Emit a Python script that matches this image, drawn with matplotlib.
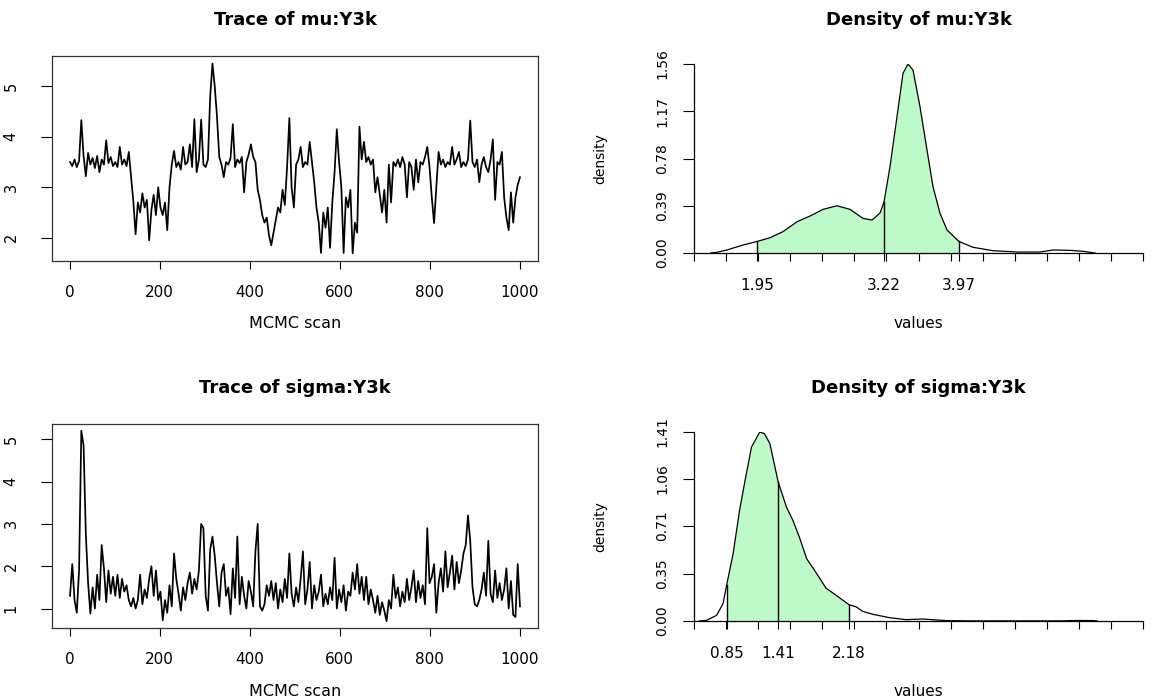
import numpy as np
import matplotlib.pyplot as plt

W, H = 1152, 698

# --- MCMC traces (one value about every 5 scans) ---
mu_trace = [
    3.50, 3.42, 3.55, 3.40, 3.52, 4.33, 3.62, 3.22, 3.68, 3.45,
    3.58, 3.38, 3.62, 3.30, 3.55, 3.45, 3.93, 3.48, 3.60, 3.42,
    3.50, 3.40, 3.80, 3.45, 3.55, 3.42, 3.70, 3.20, 2.72, 2.07,
    2.70, 2.50, 2.88, 2.60, 2.75, 1.95, 2.55, 2.85, 2.45, 3.00,
    2.60, 2.45, 2.70, 2.15, 3.00, 3.45, 3.72, 3.40, 3.50, 3.35,
    3.80, 3.45, 3.50, 3.85, 3.40, 4.35, 3.30, 3.55, 4.34, 3.45,
    3.40, 3.55, 4.80, 5.45, 5.00, 4.40, 3.60, 3.45, 3.20, 3.50,
    3.45, 3.58, 4.25, 3.40, 3.55, 3.48, 3.60, 2.90, 3.50, 3.65,
    3.85, 3.60, 3.50, 2.95, 2.75, 2.45, 2.30, 2.40, 2.05, 1.85,
    2.10, 2.35, 2.60, 2.50, 2.95, 2.65, 3.40, 4.37, 3.00, 2.60,
    3.45, 3.55, 3.80, 3.40, 3.50, 3.45, 3.90, 3.50, 3.10, 2.60,
    2.30, 1.70, 2.50, 2.20, 2.60, 1.80, 2.70, 3.30, 4.15, 3.50,
    3.00, 1.70, 2.80, 2.60, 2.95, 1.69, 2.30, 2.10, 4.20, 3.55,
    3.90, 3.50, 3.60, 3.45, 3.55, 2.90, 3.20, 2.85, 2.50, 2.95,
    2.30, 3.45, 2.70, 3.50, 3.42, 3.55, 3.40, 3.60, 3.45, 2.80,
    3.50, 3.40, 2.95, 3.55, 3.10, 3.50, 3.45, 3.60, 3.80, 3.40,
    2.80, 2.29, 3.00, 3.70, 3.45, 3.55, 3.40, 3.50, 3.45, 3.80,
    3.45, 3.55, 3.70, 3.40, 3.50, 3.42, 3.55, 4.32, 3.50, 3.40,
    3.55, 3.10, 3.45, 3.60, 3.40, 3.30, 3.55, 3.95, 2.75, 3.50,
    3.45, 3.70, 2.80, 2.40, 2.15, 2.90, 2.30, 2.80, 3.05, 3.20,
]

sigma_trace = [
    1.30, 2.05, 1.20, 0.90, 1.90, 5.20, 4.85, 2.75, 1.60, 0.88,
    1.50, 1.00, 1.80, 1.20, 2.50, 1.95, 1.15, 1.90, 1.35, 1.75,
    1.30, 1.80, 1.25, 1.70, 1.40, 1.55, 1.20, 1.05, 1.25, 1.00,
    1.20, 1.80, 1.10, 1.45, 1.25, 1.70, 2.00, 1.30, 1.90, 1.20,
    1.40, 0.72, 1.20, 0.90, 1.55, 1.05, 2.30, 1.70, 1.35, 0.95,
    1.50, 1.20, 1.60, 1.85, 1.35, 1.70, 1.45, 1.90, 3.00, 2.90,
    1.30, 0.95, 2.40, 2.70, 2.25, 1.60, 1.05, 1.85, 2.05, 1.30,
    1.50, 0.87, 1.95, 1.25, 2.70, 1.10, 1.75, 1.30, 1.00, 1.65,
    1.40, 1.05, 2.35, 3.00, 1.05, 0.95, 1.10, 1.55, 1.30, 1.65,
    1.20, 1.60, 1.00, 1.45, 1.15, 1.70, 1.25, 2.30, 1.35, 1.05,
    1.50, 1.15, 1.70, 2.35, 1.10, 1.45, 2.10, 1.00, 1.55, 1.20,
    1.40, 1.80, 1.05, 1.35, 1.10, 1.50, 1.20, 2.20, 1.00, 1.45,
    1.15, 1.55, 0.95, 1.40, 1.30, 1.85, 1.45, 2.05, 1.35, 1.75,
    1.20, 1.75, 1.10, 1.45, 1.20, 0.90, 1.30, 0.85, 1.15, 0.95,
    0.70, 1.20, 1.00, 1.80, 1.25, 1.50, 1.05, 1.40, 1.15, 1.70,
    1.20, 1.50, 1.90, 1.15, 1.65, 1.25, 1.55, 1.10, 2.90, 1.60,
    1.75, 2.05, 0.90, 1.60, 1.95, 1.40, 2.35, 1.50, 1.85, 2.25,
    1.45, 2.10, 1.60, 1.90, 2.30, 2.50, 3.20, 2.60, 1.50, 1.10,
    1.05, 1.20, 1.45, 1.85, 1.30, 2.60, 1.35, 1.15, 1.90, 1.25,
    1.60, 1.20, 1.45, 1.95, 1.00, 1.65, 0.85, 0.80, 2.05, 1.05,
]

# --- posterior densities ---
mu_dens_x = [1.49, 1.55, 1.65, 1.81, 1.95, 2.08, 2.21, 2.35, 2.48, 2.61,
             2.75, 2.88, 3.01, 3.10, 3.18, 3.22, 3.28, 3.35, 3.41, 3.46,
             3.51, 3.58, 3.65, 3.71, 3.78, 3.85, 3.97, 4.11, 4.31, 4.55,
             4.78, 4.91, 5.08, 5.21, 5.33]
mu_dens_y = [0.000, 0.006, 0.025, 0.066, 0.095, 0.126, 0.176, 0.258, 0.305, 0.360,
             0.390, 0.360, 0.286, 0.272, 0.330, 0.420, 0.712, 1.125, 1.483, 1.560,
             1.510, 1.207, 0.850, 0.547, 0.328, 0.190, 0.095, 0.047, 0.019, 0.008,
             0.008, 0.025, 0.022, 0.014, 0.000]
mu_interval = [1.95, 3.22, 3.97]  # lower, median, upper

sigma_dens_x = [0.55, 0.63, 0.74, 0.81, 0.85, 0.92, 0.99, 1.05, 1.12, 1.21,
                1.26, 1.32, 1.41, 1.50, 1.57, 1.64, 1.72, 1.83, 1.93, 2.04,
                2.18, 2.26, 2.33, 2.44, 2.62, 2.80, 2.98, 3.13, 3.24, 3.50,
                4.50, 4.65, 4.85, 4.88]
sigma_dens_y = [0.000, 0.005, 0.042, 0.130, 0.270, 0.503, 0.826, 1.050, 1.298, 1.410,
                1.398, 1.323, 1.037, 0.850, 0.751, 0.627, 0.465, 0.353, 0.246, 0.192,
                0.122, 0.105, 0.072, 0.050, 0.025, 0.010, 0.015, 0.008, 0.003, 0.001,
                0.001, 0.004, 0.003, 0.000]
sigma_interval = [0.85, 1.41, 2.18]

mu_yticks = [0.00, 0.39, 0.78, 1.17, 1.56]
sigma_yticks = [0.00, 0.35, 0.71, 1.06, 1.41]

FILL = '#BEFAC8'
FONT = 'DejaVu Sans'
plt.rcParams['font.family'] = FONT


def px_axes(fig, left, top, right, bottom):
    return fig.add_axes([left / W, 1 - bottom / H, (right - left) / W, (bottom - top) / H])


def ftext(fig, x, y, s, **kw):
    fig.text(x / W, 1 - y / H, s, ha='center', va='center', **kw)


def trace_panel(fig, box, values, ylim, yticks, title, ty, ly):
    ax = px_axes(fig, *box)
    scans = np.linspace(1, 1000, len(values))
    ax.plot(scans, values, color='black', lw=1.25)
    ax.set_xlim(-39, 1040)
    ax.set_ylim(*ylim)
    ax.set_xticks([0, 200, 400, 600, 800, 1000])
    ax.set_yticks(yticks)
    ax.tick_params(axis='x', length=6, width=0.8, pad=11, labelsize=11)
    ax.tick_params(axis='y', length=8, width=0.8, pad=16, labelsize=10.5)
    for lab in ax.get_yticklabels():
        lab.set_rotation(90)
        lab.set_va('center')
    for sp in ax.spines.values():
        sp.set_color('#333333')
        sp.set_linewidth(0.9)
    cx = (box[0] + box[2]) / 2
    ftext(fig, cx, ty, title, fontsize=13, fontweight='bold')
    ftext(fig, cx, ly, 'MCMC scan', fontsize=11.5)
    return ax


def density_panel(fig, box, dx, dy, interval, xlim, yticks, title, ty, ly):
    ax = px_axes(fig, *box)
    dx = np.array(dx)
    dy = np.array(dy)
    lo, med, hi = interval
    inside = (dx >= lo) & (dx <= hi)
    ax.fill_between(dx[inside], 0, dy[inside], color=FILL, lw=0)
    ax.plot(dx, dy, color='black', lw=0.9)
    for v in interval:
        ax.plot([v, v], [0, np.interp(v, dx, dy)], color='black', lw=1.0)
    ax.set_xlim(*xlim)
    ax.set_ylim(yticks[0], yticks[-1])
    regular = list(np.linspace(xlim[0], xlim[1], 15))
    ticks = regular + interval
    labels = [''] * len(regular) + ['%.2f' % v for v in interval]
    ax.set_xticks(ticks, labels=labels)
    ax.set_yticks(yticks, labels=['%.2f' % v for v in yticks])
    ax.tick_params(axis='x', length=6, width=0.8, pad=12, labelsize=11)
    ax.tick_params(axis='y', length=8, width=0.8, pad=10, labelsize=10)
    for lab in ax.get_yticklabels():
        lab.set_rotation(90)
        lab.set_va('center')
    ax.spines['top'].set_visible(False)
    ax.spines['right'].set_visible(False)
    ax.spines['left'].set_linewidth(0.9)
    ax.spines['bottom'].set_linewidth(0.9)
    ax.patch.set_alpha(0)
    cx = (box[0] + box[2]) / 2
    cy = (box[1] + box[3]) / 2
    ftext(fig, cx, ty, title, fontsize=13, fontweight='bold')
    ftext(fig, cx, ly, 'values', fontsize=11)
    ftext(fig, 600, cy, 'density', fontsize=10, rotation=90)
    return ax


fig = plt.figure(figsize=(W / 100, H / 100), dpi=100)

trace_panel(fig, (52, 56, 538, 261), mu_trace, (1.54, 5.60), [2, 3, 4, 5],
            'Trace of mu:Y3k', 20, 324)
trace_panel(fig, (52, 424, 538, 628), sigma_trace, (0.54, 5.36), [1, 2, 3, 4, 5],
            'Trace of sigma:Y3k', 388, 691)

density_panel(fig, (694, 64, 1143, 253), mu_dens_x, mu_dens_y, mu_interval,
              (1.32, 5.81), mu_yticks, 'Density of mu:Y3k', 20, 324)
density_panel(fig, (694, 432, 1143, 621), sigma_dens_x, sigma_dens_y, sigma_interval,
              (0.494, 5.38), sigma_yticks, 'Density of sigma:Y3k', 388, 691)

fig.savefig('out.png', dpi=100)
